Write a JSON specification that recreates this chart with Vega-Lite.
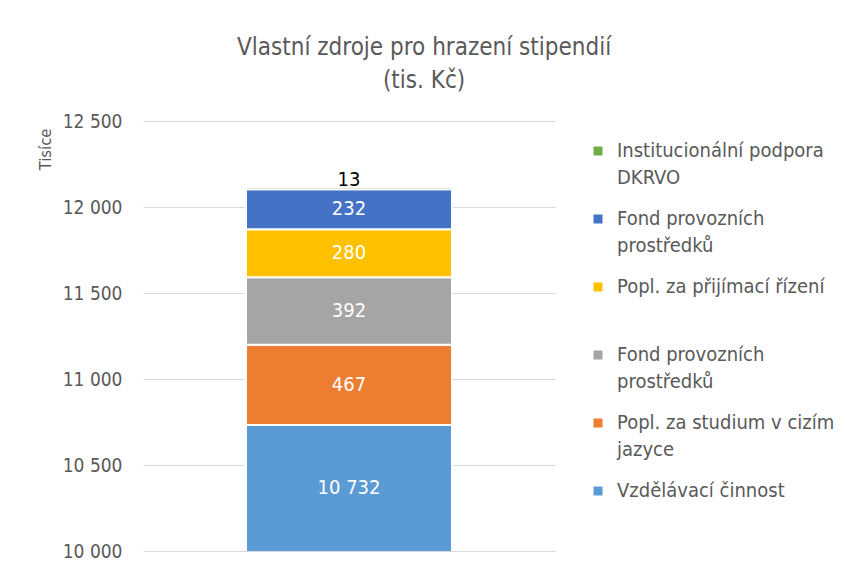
{
  "$schema": "https://vega.github.io/schema/vega-lite/v6.json",
  "width": 412,
  "height": 430,
  "autosize": {"type": "none"},
  "padding": {"left": 143, "top": 121, "right": 290, "bottom": 19},
  "config": {
    "font": "DejaVu Sans Condensed",
    "view": {"stroke": null},
    "style": {"guide-label": {"lineHeight": 27}},
    "locale": {"number": {"decimal": ",", "thousands": " ", "grouping": [3], "currency": ["", " Kč"]}}
  },
  "title": {
    "text": ["Vlastní zdroje pro hrazení stipendií", "(tis. Kč)"],
    "fontSize": 24,
    "fontWeight": "normal",
    "color": "#595959",
    "anchor": "middle",
    "frame": "bounds",
    "lineHeight": 33,
    "offset": 19,
    "dx": -12
  },
  "data": {
    "values": [
      {"skupina": "Vlastní zdroje", "zdroj": "Vzdělávací činnost", "hodnota": 10732, "poradi": 1},
      {"skupina": "Vlastní zdroje", "zdroj": "Popl. za studium v cizím\njazyce", "hodnota": 467, "poradi": 2},
      {"skupina": "Vlastní zdroje", "zdroj": "Fond provozních\nprostředků ", "hodnota": 392, "poradi": 3},
      {"skupina": "Vlastní zdroje", "zdroj": "Popl. za přijímací řízení\n ", "hodnota": 280, "poradi": 4},
      {"skupina": "Vlastní zdroje", "zdroj": "Fond provozních\nprostředků", "hodnota": 232, "poradi": 5},
      {"skupina": "Vlastní zdroje", "zdroj": "Institucionální podpora\nDKRVO", "hodnota": 13, "poradi": 6}
    ]
  },
  "transform": [
    {"stack": "hodnota", "groupby": ["skupina"], "sort": [{"field": "poradi", "order": "ascending"}], "as": ["y0", "y1"]},
    {"calculate": "(max(datum.y0, 10000) + datum.y1) / 2", "as": "ystred"}
  ],
  "encoding": {
    "x": {"field": "skupina", "type": "nominal", "axis": null, "scale": {"paddingInner": 0, "paddingOuter": 0.5}}
  },
  "layer": [
    {
      "mark": {"type": "bar", "clip": true, "stroke": "white", "strokeWidth": 2},
      "encoding": {
        "y": {
          "field": "y1", "type": "quantitative",
          "scale": {"domain": [10000, 12500], "nice": false, "zero": false},
          "axis": {
            "values": [10000, 10500, 11000, 11500, 12000, 12500],
            "format": ",d",
            "title": "Tisíce",
            "titleFontSize": 16.5,
            "titleFontWeight": "normal",
            "titleColor": "#595959",
            "titleAnchor": "end",
            "titleY": 7,
            "titlePadding": 9,
            "labelFontSize": 19,
            "labelColor": "#595959",
            "labelPadding": 21,
            "labelLineHeight": 20,
            "ticks": false,
            "domain": false,
            "grid": true,
            "gridColor": "#D9D9D9",
            "gridWidth": 1
          }
        },
        "y2": {"field": "y0"},
        "color": {
          "field": "zdroj", "type": "nominal",
          "scale": {
            "domain": ["Institucionální podpora\nDKRVO", "Fond provozních\nprostředků", "Popl. za přijímací řízení\n ", "Fond provozních\nprostředků ", "Popl. za studium v cizím\njazyce", "Vzdělávací činnost"],
            "range": ["#70AD47", "#4472C4", "#FFC000", "#A5A5A5", "#ED7D31", "#5B9BD5"]
          },
          "legend": {
            "title": null,
            "orient": "none",
            "legendX": 445,
            "legendY": 20,
            "symbolType": "square",
            "symbolSize": 81,
            "symbolStrokeWidth": 0,
            "labelFontSize": 20,
            "labelColor": "#595959",
            "labelLimit": 300,
            "labelOffset": 9,
            "labelExpr": "split(datum.label, '\\n')",
            "rowPadding": 21
          }
        },
        "order": {"field": "poradi", "type": "quantitative"}
      }
    },
    {
      "transform": [{"filter": "datum.hodnota > 100"}],
      "mark": {"type": "text", "color": "white", "fontSize": 20, "baseline": "middle", "align": "center"},
      "encoding": {
        "y": {"field": "ystred", "type": "quantitative"},
        "text": {"field": "hodnota", "type": "quantitative", "format": ",d"}
      }
    },
    {
      "transform": [{"filter": "datum.hodnota <= 100"}],
      "mark": {"type": "text", "color": "#000000", "fontSize": 20, "baseline": "alphabetic", "align": "center", "dy": -1},
      "encoding": {
        "y": {"field": "y1", "type": "quantitative"},
        "text": {"field": "hodnota", "type": "quantitative", "format": ",d"}
      }
    }
  ]
}
